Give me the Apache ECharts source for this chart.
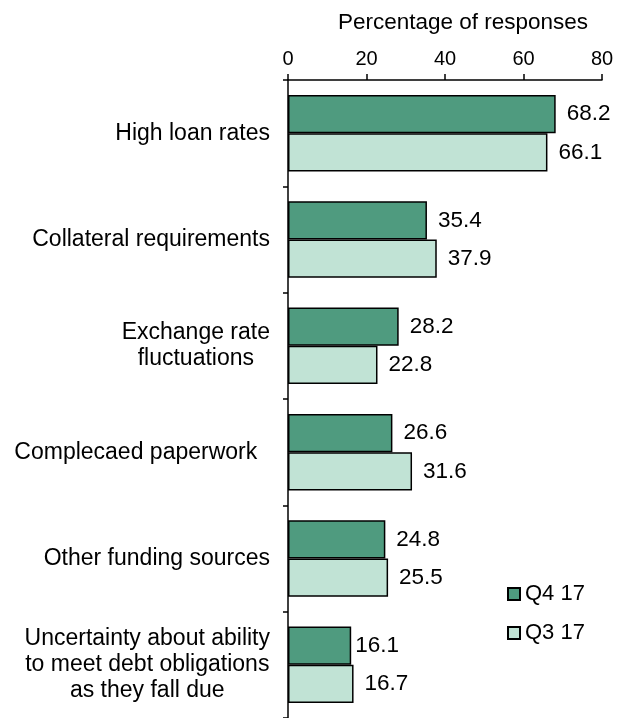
<!DOCTYPE html>
<html>
<head>
<meta charset="utf-8">
<script src="https://cdn.jsdelivr.net/npm/echarts@6/dist/echarts.min.js"></script>
<style>
  html, body { margin: 0; padding: 0; background: #fff; }
  #chart { width: 619px; height: 718px; }
</style>
</head>
<body>
<div id="chart"></div>
<script>
// Obstacles to borrowing, share of responses by quarter
const categories = [
  'High loan rates',
  'Collateral requirements',
  'Exchange rate\nfluctuations',
  'Complecaed paperwork  ',
  'Other funding sources',
  'Uncertainty about ability\nto meet debt obligations\nas they fall due'
];
const q4Values = [68.2, 35.4, 28.2, 26.6, 24.8, 16.1];
const q3Values = [66.1, 37.9, 22.8, 31.6, 25.5, 16.7];
const seriesNames = ['Q4 17', 'Q3 17'];
const xTicks = { min: 0, max: 80, interval: 20 };

const FONT = '"Liberation Sans", Arial, sans-serif';
const DARK = '#4F9B7F';
const LIGHT = '#C1E3D5';

const chart = echarts.init(document.getElementById('chart'), null, { renderer: 'canvas' });

// labelNudge: per-bar label distance overrides (index -> px)
function barSeries(name, values, color, labelNudge) {
  return {
    name: name,
    type: 'bar',
    data: values.map((v, i) =>
      labelNudge && labelNudge[i] !== undefined
        ? { value: v, label: { distance: labelNudge[i] } }
        : v),
    barGap: '0%',
    barCategoryGap: '28%',
    itemStyle: { color: color, borderColor: '#000', borderWidth: 1.5 },
    label: {
      show: true,
      position: 'right',
      distance: 11,
      color: '#000',
      fontSize: 22.5,
      fontFamily: FONT,
      formatter: p => p.value.toFixed(1)
    },
    emphasis: { disabled: true },
    animation: false
  };
}

chart.setOption({
  backgroundColor: '#fff',
  animation: false,
  title: {
    text: 'Percentage of responses',
    left: 458,
    top: 6,
    textAlign: 'center',
    textStyle: { fontSize: 22.5, fontWeight: 'normal', color: '#000', fontFamily: FONT }
  },
  grid: { left: 288, right: 17, top: 80, height: 644, containLabel: false },
  legend: {
    orient: 'vertical',
    left: 502,
    top: 578,
    itemWidth: 12,
    itemHeight: 12,
    itemGap: 17,
    icon: 'rect',
    textStyle: { fontSize: 22, color: '#000', fontFamily: FONT, padding: [0, 0, 0, 0] },
    data: seriesNames
  },
  xAxis: {
    type: 'value',
    position: 'top',
    min: xTicks.min,
    max: xTicks.max,
    interval: xTicks.interval,
    axisLine: { show: true, lineStyle: { color: '#000', width: 1.5 } },
    axisTick: { show: true, inside: false, length: 6, lineStyle: { color: '#000', width: 1.5 } },
    axisLabel: { color: '#000', fontSize: 20, fontFamily: FONT, margin: 11 },
    splitLine: { show: false }
  },
  yAxis: {
    type: 'category',
    inverse: true,
    data: categories,
    axisLine: { show: true, lineStyle: { color: '#000', width: 1.5 } },
    axisTick: { show: true, inside: false, length: 5, lineStyle: { color: '#000', width: 1.5 } },
    axisLabel: {
      align: 'right',
      margin: 18,
      color: '#000',
      fontFamily: FONT,
      formatter: v => v.split('\n').map(line => '{c|' + line + '}').join('\n'),
      rich: {
        c: { align: 'center', fontSize: 23, lineHeight: 26, color: '#000', fontFamily: FONT }
      }
    },
    splitLine: { show: false }
  },
  series: [
    barSeries(seriesNames[0], q4Values, DARK, { 5: 4 }),
    barSeries(seriesNames[1], q3Values, LIGHT)
  ]
});
</script>
</body>
</html>
